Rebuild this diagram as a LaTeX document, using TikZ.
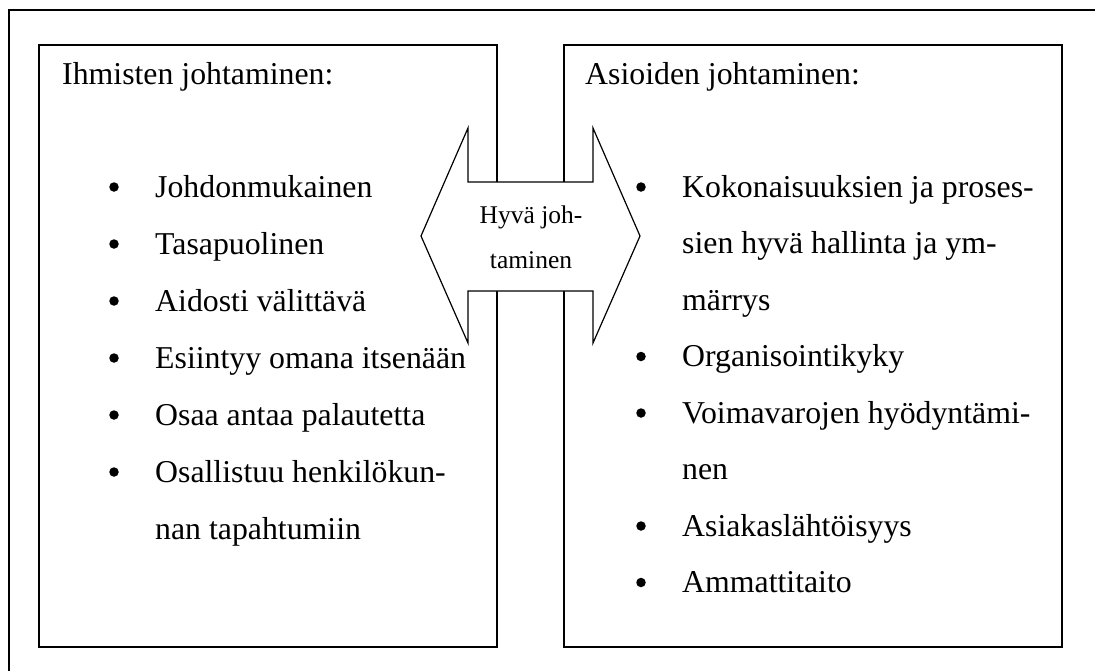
\documentclass[tikz,border=0pt]{standalone}
\usepackage{fontspec}
\setmainfont{Liberation Serif}
\begin{document}
\begin{tikzpicture}[x=1pt,y=-1pt,
  frame/.style={draw=black, line width=1.6pt},
  box/.style={draw=black, line width=1.3pt},
  arrowshape/.style={draw=black, fill=white, line width=1.2pt, line join=miter},
  txt/.style={anchor=base west, inner sep=0pt, font=\fontsize{31.8}{34}\selectfont},
  bul/.style={circle, fill=black, inner sep=0pt, minimum size=9.5pt},
  albl/.style={anchor=base, inner sep=0pt, font=\fontsize{25.5}{28}\selectfont}]
\useasboundingbox (0,0) rectangle (1095,670);
\clip (0,0) rectangle (1095,670);
% outer frame (cropped at right and bottom)
\draw[frame] (9,10) rectangle (1110,690);
% boxes
\draw[box] (39,45) rectangle (497,647);
\draw[box] (564,45) rectangle (1062,647);
% double arrow
\draw[arrowshape] (421,236) -- (468,128) -- (468,182) -- (593,182) -- (593,128)
  -- (640,236) -- (593,343) -- (593,291) -- (468,291) -- (468,343) -- cycle;
\node[albl] (a1) at (531,223) {Hyvä joh-};
\node[albl] (a2) at (531,268) {taminen};
% left box
\node[txt] (lt) at (62,84) {Ihmisten johtaminen:};
\foreach \i/\t/\b in {0/Johdonmukainen/1,1/Tasapuolinen/1,2/Aidosti välittävä/1,
  3/Esiintyy omana itsenään/1,4/Osaa antaa palautetta/1,5/Osallistuu henkilökun-/1,
  6/nan tapahtumiin/0}{
  \pgfmathsetmacro{\yy}{197+57*\i}
  \node[txt] (l\i) at (155,\yy) {\t};
  \ifnum\b=1 \node[bul] (lb\i) at (114,\yy-10) {}; \fi
}
% right box
\node[txt] (rt) at (585,84) {Asioiden johtaminen:};
\foreach \i/\t/\b in {0/Kokonaisuuksien ja proses-/1,1/sien hyvä hallinta ja ym-/0,
  2/märrys/0,3/Organisointikyky/1,4/Voimavarojen hyödyntämi-/1,5/nen/0,
  6/Asiakaslähtöisyys/1,7/Ammattitaito/1}{
  \pgfmathsetmacro{\yy}{197+56.5*\i}
  \node[txt] (r\i) at (682,\yy) {\t};
  \ifnum\b=1 \node[bul] (rb\i) at (641,\yy-10) {}; \fi
}
\end{tikzpicture}
\end{document}
